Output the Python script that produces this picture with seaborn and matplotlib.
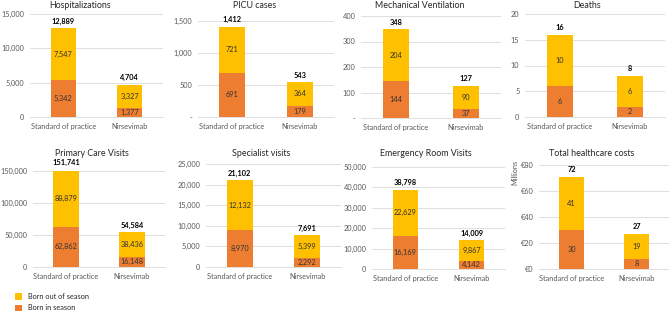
"""
RSV burden: stacked bars of outcomes, standard of practice vs nirsevimab.
"""

import matplotlib
matplotlib.use("Agg")
import matplotlib.pyplot as plt
from matplotlib.patches import Patch
from matplotlib.ticker import FuncFormatter, MultipleLocator
import pandas as pd
import seaborn as sns

# ---- data -------------------------------------------------------------
categories = ["Standard of practice", "Nirsevimab"]

titles = [
    "Hospitalizations", "PICU cases", "Mechanical Ventilation", "Deaths",
    "Primary Care Visits", "Specialist visits", "Emergency Room Visits",
    "Total healthcare costs",
]

born_in_season = [
    [5342, 1377], [691, 179], [144, 37], [6, 2],
    [62862, 16148], [8970, 2292], [16169, 4142], [30, 8],
]
born_out_of_season = [
    [7547, 3327], [721, 364], [204, 90], [10, 6],
    [88879, 38436], [12132, 5399], [22629, 9867], [41, 19],
]
totals = [
    [12889, 4704], [1412, 543], [348, 127], [16, 8],
    [151741, 54584], [21102, 7691], [38798, 14009], [72, 27],
]

y_max = [15000, 1500, 400, 20, 150000, 25000, 50000, 80]
y_step = [5000, 500, 100, 5, 50000, 5000, 10000, 20]
zero_dash = [False, True, True, False, False, False, False, False]
euro = [False] * 7 + [True]

# ---- style ------------------------------------------------------------
sns.set_theme(style="white")
plt.rcParams["font.family"] = ["Lato", "DejaVu Sans"]

ORANGE = "#ED7D31"
YELLOW = "#FFC000"
GRID = "#D9D9D9"
TICK = "#595959"
LABEL = "#333333"

W, H = 669, 316
fig = plt.figure(figsize=(W / 100, H / 100), dpi=100)

# axes rectangles in pixels: left, top, right, bottom
rects = [
    (30, 14, 163, 117), (198, 21, 334, 117), (361, 16, 501, 118), (525, 14, 665, 117),
    (33, 171, 165, 267), (206, 164, 341, 267), (372, 167, 505, 269), (539, 165, 669, 269),
]
title_pos = [
    (80, 5), (255, 5), (420, 5), (587, 6),
    (92, 153), (261, 153), (426, 153), (592, 153),
]


def make_formatter(dash, eur):
    def fmt(v, _):
        if v == 0 and dash:
            return "-"
        s = f"{v:,.0f}"
        return f"€{s}" if eur else s
    return FuncFormatter(fmt)


for k in range(8):
    l, t, r, b = rects[k]
    ax = fig.add_axes([l / W, 1 - b / H, (r - l) / W, (b - t) / H])

    df = pd.DataFrame({
        "category": categories,
        "in_season": born_in_season[k],
        "out_season": born_out_of_season[k],
    })
    df["stacked"] = df["in_season"] + df["out_season"]

    sns.barplot(data=df, x="category", y="stacked", color=YELLOW,
                width=0.38, saturation=1, linewidth=0, edgecolor="none", ax=ax)
    sns.barplot(data=df, x="category", y="in_season", color=ORANGE,
                width=0.38, saturation=1, linewidth=0, edgecolor="none", ax=ax)

    for i, row in df.iterrows():
        ax.text(i, row["in_season"] / 2, f"{row['in_season']:,}",
                ha="center", va="center", fontsize=5.3, color=LABEL)
        ax.text(i, row["in_season"] + row["out_season"] / 2, f"{row['out_season']:,}",
                ha="center", va="center", fontsize=5.3, color=LABEL)
        ax.annotate(f"{totals[k][i]:,}", (i, row["stacked"]),
                    xytext=(0, 2.5), textcoords="offset points",
                    ha="center", va="bottom", fontsize=5.3,
                    fontweight="bold", color="black", annotation_clip=False)

    ax.set_xlim(-0.5, 1.5)
    ax.set_ylim(0, y_max[k])
    ax.yaxis.set_major_locator(MultipleLocator(y_step[k]))
    ax.yaxis.set_major_formatter(make_formatter(zero_dash[k], euro[k]))
    ax.grid(axis="y", color=GRID, linewidth=0.6)
    ax.set_axisbelow(True)
    for side in ["left", "right", "top"]:
        ax.spines[side].set_visible(False)
    ax.spines["bottom"].set_color(GRID)
    ax.spines["bottom"].set_linewidth(0.6)
    ax.tick_params(axis="both", length=0, labelsize=5.3, labelcolor=TICK, pad=4)
    ax.set_xlabel("")
    ax.set_ylabel("")

    tx, ty = title_pos[k]
    fig.text(tx / W, 1 - ty / H, titles[k], ha="center", va="center",
             fontsize=6.4, color="#262626")

fig.text(515 / W, 1 - 172 / H, "Millions", rotation=90, ha="center",
         va="center", fontsize=5.3, color=TICK)

handles = [Patch(facecolor=YELLOW, edgecolor="none", label="Born out of season"),
           Patch(facecolor=ORANGE, edgecolor="none", label="Born in season")]
fig.legend(handles=handles, loc="upper left", bbox_to_anchor=(12 / W, 1 - 290 / H),
           frameon=False, fontsize=5.3, handlelength=1.0, handleheight=1.0,
           handletextpad=0.8, labelspacing=0.6, borderaxespad=0)

fig.savefig("out.png", dpi=100)
